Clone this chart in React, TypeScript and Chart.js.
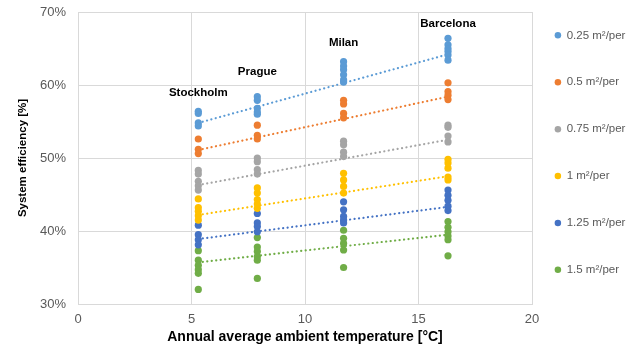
import { useEffect, useRef } from 'react';
import { Chart, registerables } from 'chart.js';

Chart.register(...registerables);

const cities = ['Stockholm', 'Prague', 'Milan', 'Barcelona'];
const cityTemps = [5.3, 7.9, 11.7, 16.3];
const cityLabelLevels = [58.9, 61.8, 65.8, 68.4];

const seriesLabels = ['0.25 m²/per', '0.5 m²/per', '0.75 m²/per', '1 m²/per', '1.25 m²/per', '1.5 m²/per'];
const seriesColors = ['#5B9BD5', '#ED7D31', '#A5A5A5', '#FFC000', '#4472C4', '#70AD47'];

// values per city: [Stockholm, Prague, Milan, Barcelona]
const eff025 = [
  [56.4, 56.1, 54.8, 54.4],
  [58.4, 57.9, 56.8, 56.3, 56.0],
  [63.2, 62.6, 62.1, 61.4, 60.7, 60.4],
  [66.4, 65.5, 65.0, 64.6, 64.1, 63.4],
];
const eff05 = [
  [52.6, 51.2, 50.6],
  [54.5, 53.1, 52.6],
  [57.9, 57.4, 56.1, 55.5],
  [60.3, 59.1, 58.6, 58.0],
];
const eff075 = [
  [48.3, 47.8, 46.8, 46.2, 45.6],
  [50.0, 49.5, 48.4, 47.8],
  [52.3, 51.8, 50.8, 50.2],
  [54.5, 54.2, 53.0, 52.2],
];
const eff1 = [
  [44.4, 43.2, 42.7, 42.1, 41.5],
  [45.9, 45.2, 44.3, 43.7, 43.1],
  [47.9, 47.0, 46.1, 45.2],
  [49.8, 49.3, 48.6, 47.4, 47.0],
];
const eff125 = [
  [40.8, 39.5, 38.8, 38.1],
  [42.4, 41.1, 40.6, 39.9],
  [44.0, 42.9, 42.0, 41.5, 41.1],
  [45.6, 44.9, 44.2, 43.4, 42.8],
];
const eff15 = [
  [37.3, 36.0, 35.3, 34.7, 34.2, 32.0],
  [39.1, 37.8, 37.2, 36.5, 36.0, 33.5],
  [40.1, 39.0, 38.3, 37.4, 35.0],
  [41.3, 40.5, 39.9, 39.3, 38.8, 36.6],
];
const seriesValues = [eff025, eff05, eff075, eff1, eff125, eff15];

// linear trendline values at Stockholm and Barcelona temperatures
const trendStart = [54.8, 51.1, 46.3, 42.2, 38.9, 35.7];
const trendEnd = [64.2, 58.4, 52.5, 47.5, 43.3, 39.5];

const yTicks = [30, 40, 50, 60, 70];
const xTicks = [0, 5, 10, 15, 20];

const FONT = '"Liberation Sans", Arial, Helvetica, sans-serif';

export default function App() {
  const ref = useRef<HTMLCanvasElement>(null);

  useEffect(() => {
    if (!ref.current) return;
    const datasets: any[] = [];
    seriesValues.forEach((vals, i) => {
      const pts: { x: number; y: number }[] = [];
      vals.forEach((arr, c) => arr.forEach((v) => pts.push({ x: cityTemps[c], y: v })));
      datasets.push({
        type: 'scatter',
        label: seriesLabels[i],
        data: pts,
        backgroundColor: seriesColors[i],
        borderColor: seriesColors[i],
        pointRadius: 3.6,
        pointHoverRadius: 3.6,
        pointBorderWidth: 0,
        pointStyle: 'circle',
        order: 1,
      });
    });
    seriesValues.forEach((_, i) => {
      datasets.push({
        type: 'line',
        label: 'trend' + i,
        data: [
          { x: cityTemps[0], y: trendStart[i] },
          { x: cityTemps[cityTemps.length - 1], y: trendEnd[i] },
        ],
        borderColor: seriesColors[i],
        backgroundColor: seriesColors[i],
        borderWidth: 2.2,
        borderDash: [0.1, 4.4],
        borderCapStyle: 'round',
        pointRadius: 0,
        fill: false,
        order: 2,
      });
    });

    const cityLabelsPlugin = {
      id: 'cityLabels',
      afterDatasetsDraw(chart: any) {
        const { ctx } = chart;
        const xs = chart.scales.x;
        const ys = chart.scales.y;
        ctx.save();
        ctx.font = 'bold 11.5px ' + FONT;
        ctx.fillStyle = '#000000';
        ctx.textAlign = 'center';
        ctx.textBaseline = 'middle';
        cities.forEach((c, i) => {
          ctx.fillText(c, xs.getPixelForValue(cityTemps[i]), ys.getPixelForValue(cityLabelLevels[i]));
        });
        ctx.restore();
      },
    };

    const legendShift = {
      id: 'legendShift',
      afterLayout(chart: any) {
        const l = chart.legend;
        if (l) {
          l.left -= 12.5;
          l.top -= 17.8;
          l.bottom -= 17.8;
        }
      },
    };

    const chart = new Chart(ref.current, {
      type: 'scatter',
      data: { datasets },
      options: {
        animation: false,
        responsive: false,
        devicePixelRatio: 1,
        layout: { padding: { top: 12, left: 0, right: 0, bottom: 0 } },
        plugins: {
          tooltip: { enabled: false },
          legend: {
            position: 'right',
            align: 'start',
            maxWidth: 102,
            labels: {
              usePointStyle: true,
              boxWidth: 6,
              boxHeight: 4.6,
              padding: 35.4,
              color: '#595959',
              font: { family: FONT, size: 11.5 },
              filter: (item: any) => item.datasetIndex < seriesLabels.length,
            },
          },
        },
        scales: {
          x: {
            type: 'linear',
            min: 0,
            max: 20,
            afterBuildTicks: (s: any) => {
              s.ticks = xTicks.map((v) => ({ value: v }));
            },
            afterFit: (s: any) => {
              s.height = 43;
              s.paddingLeft = 0;
              s.paddingRight = 0;
            },
            grid: { color: '#d9d9d9', drawTicks: false, lineWidth: 1 },
            border: { color: '#d9d9d9' },
            ticks: { color: '#595959', padding: 8, font: { family: FONT, size: 13 } },
            title: {
              display: true,
              text: 'Annual average ambient temperature [°C]',
              color: '#000000',
              font: { family: FONT, size: 14, weight: 'bold' },
              padding: { top: 0, bottom: 1.5 },
            },
          },
          y: {
            type: 'linear',
            min: 30,
            max: 70,
            afterBuildTicks: (s: any) => {
              s.ticks = yTicks.map((v) => ({ value: v }));
            },
            afterFit: (s: any) => {
              s.width = 78;
              s.paddingTop = 0;
              s.paddingBottom = 0;
            },
            grid: { color: '#d9d9d9', drawTicks: false, lineWidth: 1 },
            border: { color: '#d9d9d9' },
            ticks: {
              color: '#595959',
              padding: 12,
              font: { family: FONT, size: 13 },
              callback: (v: any) => v + '%',
            },
            title: {
              display: true,
              text: 'System efficiency [%]',
              color: '#000000',
              font: { family: FONT, size: 11.5, weight: 'bold' },
              padding: { top: 16, bottom: 0 },
            },
          },
        },
      },
      plugins: [cityLabelsPlugin, legendShift],
    } as any);
    return () => chart.destroy();
  }, []);

  return (
    <div style={{ position: 'fixed', left: 0, top: 0, width: 634, height: 347, background: '#fff' }}>
      <canvas ref={ref} width={634} height={347} style={{ display: 'block' }} />
    </div>
  );
}
